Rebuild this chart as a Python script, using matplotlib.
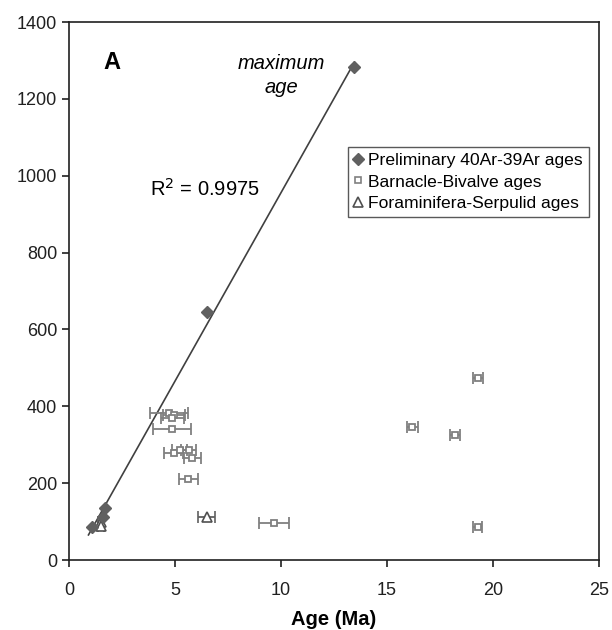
import numpy as np
import matplotlib
matplotlib.use("Agg")
import matplotlib.pyplot as plt
from matplotlib.lines import Line2D

plt.rcParams['font.family'] = ['Liberation Sans', 'DejaVu Sans']

# Preliminary 40Ar-39Ar ages
ar_x = [1.07, 1.6, 1.68, 6.5, 13.46]
ar_y = [86, 112, 135, 645, 1282]

# Barnacle-Bivalve ages
bb_x = [4.72, 4.95, 4.87, 4.87, 4.95, 5.22, 5.65, 5.81, 5.62, 9.67, 16.2, 18.2, 19.3, 19.28]
bb_y = [382, 377, 370, 341, 279, 286, 286, 265, 212, 96, 345, 325, 474, 87]
bb_err = [0.9, 0.5, 0.55, 0.9, 0.45, 0.35, 0.35, 0.4, 0.45, 0.7, 0.25, 0.25, 0.25, 0.2]

# Foraminifera-Serpulid ages
fs_x = [1.5, 1.52, 6.5]
fs_y = [100, 88, 113]
fs_err = [0.15, 0.15, 0.4]

fig = plt.figure(figsize=(6.12, 6.3), dpi=100)
ax = fig.add_axes([0.1127, 0.111, 0.866, 0.854])

# regression line through the Ar-Ar ages
slope, icpt = np.polyfit(ar_x, ar_y, 1)
xl = np.array([min(ar_x) - 0.15, max(ar_x)])
ax.plot(xl, slope * xl + icpt, color='#404040', lw=1.2, zorder=2)

ax.errorbar(bb_x, bb_y, xerr=bb_err, fmt='s', ms=5, mfc='white', mec='#808080',
            mew=1.3, ecolor='#808080', elinewidth=1.3, capsize=4, capthick=1.3, zorder=3)
ax.errorbar(fs_x, fs_y, xerr=fs_err, fmt='^', ms=7, mfc='white', mec='#505050',
            mew=1.2, ecolor='#606060', elinewidth=1.3, capsize=4, capthick=1.3, zorder=3)
ax.plot(ar_x, ar_y, 'D', ms=6.5, color='#606060', zorder=4)

ax.set_xlim(0, 25)
ax.set_ylim(0, 1400)
ax.set_xticks([0, 5, 10, 15, 20, 25])
ax.set_yticks(range(0, 1401, 200))
ax.tick_params(direction='out', length=5, width=1.2, labelsize=13, colors='#202020')
ax.tick_params(axis='x', pad=11)
for s in ax.spines.values():
    s.set_linewidth(1.2)
    s.set_color('#202020')
ax.set_xlabel('Age (Ma)', fontsize=14.5, fontweight='bold', labelpad=8)

ax.text(0.065, 0.925, 'A', transform=ax.transAxes, fontsize=17, fontweight='bold',
        va='center', ha='left')
ax.text(0.40, 0.9, 'maximum\nage', transform=ax.transAxes, fontsize=14.5, style='italic',
        ha='center', va='center', linespacing=1.35)
ax.text(0.153, 0.69, r'R$^2$ = 0.9975', transform=ax.transAxes, fontsize=14.5,
        ha='left', va='center')

handles = [
    Line2D([], [], marker='D', ls='none', ms=6, color='#606060'),
    Line2D([], [], marker='s', ls='none', ms=5, mfc='white', mec='#808080', mew=1.2),
    Line2D([], [], marker='^', ls='none', ms=7, mfc='white', mec='#505050', mew=1.2),
]
leg = ax.legend(handles, ['Preliminary 40Ar-39Ar ages', 'Barnacle-Bivalve ages',
                          'Foraminifera-Serpulid ages'],
                loc='upper left', bbox_to_anchor=(0.526, 0.768), fontsize=12.6,
                frameon=True, fancybox=False, handlelength=0.5, handletextpad=0.3,
                borderpad=0.35, labelspacing=0.35, borderaxespad=0)
leg.get_frame().set_edgecolor('#303030')
leg.get_frame().set_linewidth(1.0)

fig.savefig('out.png', dpi=100)
